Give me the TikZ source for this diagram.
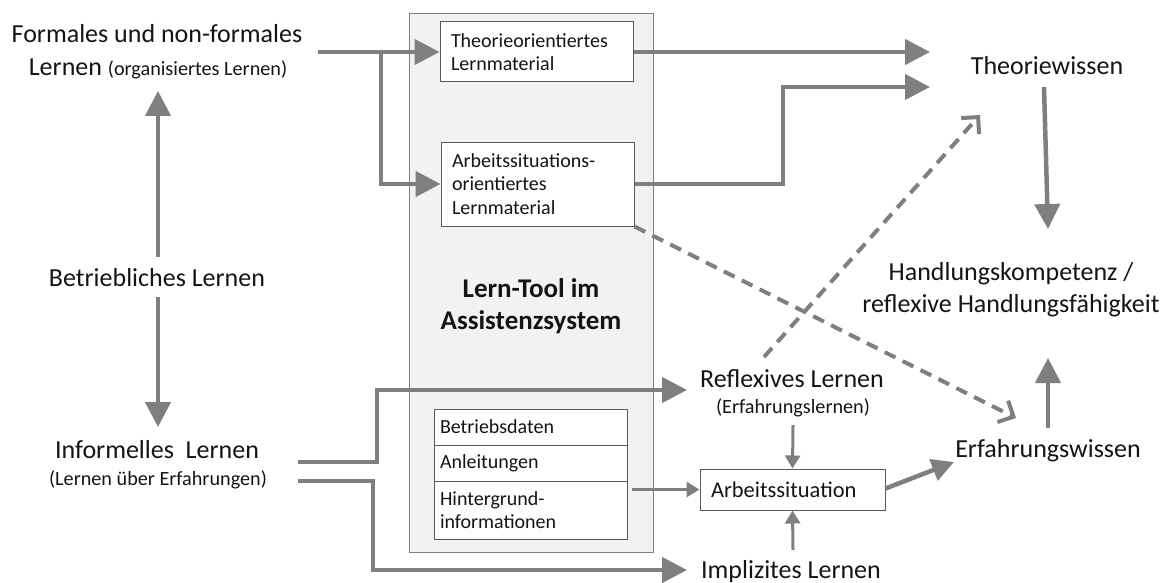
\documentclass[tikz,border=0pt]{standalone}
\usepackage{fontspec}
\setmainfont{Carlito}
\usetikzlibrary{arrows.meta}
\definecolor{arr}{HTML}{7F7F7F}
\definecolor{txt}{HTML}{141414}
\definecolor{boxfill}{HTML}{F2F2F2}
\definecolor{boxline}{HTML}{7F7F7F}
\definecolor{wline}{HTML}{595959}
\tikzset{
  lbl/.style={inner sep=0pt, anchor=base, text=txt, font=\fontsize{26}{31}\selectfont},
  sublbl/.style={inner sep=0pt, anchor=base, text=txt, font=\fontsize{20.2}{24}\selectfont},
  toolbl/.style={inner sep=0pt, anchor=base, text=txt, font=\fontsize{27}{32}\selectfont\bfseries},
  wbox/.style={draw=wline, line width=1pt, fill=white, inner xsep=11pt, inner ysep=0pt, align=left, text=txt, font=\fontsize{20}{23.5}\selectfont},
  bigarrow/.style={draw=arr, line width=4.5pt, -{Triangle[length=25pt,width=25pt]}},
  smallarrow/.style={draw=arr, line width=3pt, -{Triangle[length=13pt,width=15pt]}},
  dasharrow/.style={draw=arr, line width=4pt, dash pattern=on 12pt off 8pt, -{Straight Barb[length=12pt,width=24pt,line width=4pt]}}
}
\begin{document}
\begin{tikzpicture}[x=1pt,y=-1pt]
\useasboundingbox (0,0) rectangle (1169,583);
% grey tool box
\node[draw=boxline, line width=1pt, fill=boxfill, minimum width=244pt, minimum height=538pt, inner sep=0pt] (tool) at (531,283) {};
\node[toolbl] (toolA) at (531,297) {Lern-Tool im};
\node[toolbl] (toolB) at (531,329) {Assistenzsystem};
% white boxes
\node[wbox, minimum width=193pt, minimum height=60pt, text width=171pt] (theo) at (536.5,52) {Theorieorientiertes\\Lernmaterial};
\node[wbox, minimum width=193pt, minimum height=84pt, text width=171pt] (arb) at (537.5,184) {Arbeitssituations-\\orientiertes\\Lernmaterial};
\node[wbox, minimum width=193pt, minimum height=36pt, text width=181pt, inner xsep=6pt] (row1) at (530.5,427) {Betriebsdaten};
\node[wbox, minimum width=193pt, minimum height=36pt, text width=181pt, inner xsep=6pt] (row2) at (530.5,463) {Anleitungen};
\node[wbox, minimum width=193pt, minimum height=58pt, text width=181pt, inner xsep=6pt] (row3) at (530.5,510) {Hintergrund-\\informationen};
\node[wbox, minimum width=185pt, minimum height=41pt, text width=163pt, font=\fontsize{22.5}{27}\selectfont] (arbsit) at (792.5,489.5) {Arbeitssituation};
% labels
\node[lbl] (formalA) at (157,43) {Formales und non-formales};
\node[lbl] (formalB) at (158,76) {Lernen {\fontsize{20.2}{24}\selectfont (organisiertes Lernen)}};
\node[lbl] (betr) at (157,286) {Betriebliches Lernen};
\node[lbl] (infA) at (157,458) {Informelles~~Lernen};
\node[sublbl] (infB) at (158,485) {(Lernen über Erfahrungen)};
\node[lbl] (theow) at (1047,75) {Theoriewissen};
\node[lbl] (handA) at (1011,280) {Handlungskompetenz /};
\node[lbl] (handB) at (1011,312) {reflexive Handlungsfähigkeit};
\node[lbl] (reflA) at (792,387) {Reflexives Lernen};
\node[sublbl] (reflB) at (793,413) {(Erfahrungslernen)};
\node[lbl] (erf) at (1048,457) {Erfahrungswissen};
\node[lbl] (impl) at (791,578) {Implizites Lernen};
% coordinates
\coordinate (fA) at (318,52);
\coordinate (fB) at (381,52);
\coordinate (tw1) at (930,52);
\coordinate (tw2) at (930,87);
\coordinate (twK) at (783,87);
\coordinate (twS) at (1044,87);
\coordinate (hdT) at (1048,229);
\coordinate (bU) at (158,257);
\coordinate (fT) at (158,91);
\coordinate (bD) at (158,297);
\coordinate (iT) at (158,427);
\coordinate (iA) at (298,462);
\coordinate (iB) at (298,481);
\coordinate (rT) at (687,390);
\coordinate (pT) at (687,570);
\coordinate (rS) at (793,425);
\coordinate (pS) at (793,550);
\coordinate (eT) at (954,462);
\coordinate (eS) at (1048,428);
\coordinate (hbT) at (1048,358);
\coordinate (d1T) at (1016,418);
\coordinate (d2S) at (764,357);
\coordinate (d2T) at (980,115);
% arrows
\draw[bigarrow] (fA) -- (theo.west);
\draw[bigarrow] (fB) |- (arb.west);
\draw[bigarrow] (theo.east) -- (tw1);
\draw[bigarrow] (arb.east) -| (twK) -- (tw2);
\draw[bigarrow] (twS) -- (hdT);
\draw[bigarrow] (bU) -- (fT);
\draw[bigarrow] (bD) -- (iT);
\draw[bigarrow] (iA) -| (377,390) -- (rT);
\draw[bigarrow] (iB) -| (373,570) -- (pT);
\draw[smallarrow] ([xshift=4pt]row3.east |- arbsit.west) -- (arbsit.west);
\draw[smallarrow] (rS) -- (arbsit.north);
\draw[smallarrow] (pS) -- (arbsit.south);
\draw[draw=arr, line width=4.5pt, -{Triangle[length=22pt,width=22pt]}] ([yshift=1pt]arbsit.east) -- (eT);
\draw[bigarrow] (eS) -- (hbT);
\draw[dasharrow] (arb.south east) -- (d1T);
\draw[dasharrow] (d2S) -- (d2T);
\end{tikzpicture}
\end{document}
